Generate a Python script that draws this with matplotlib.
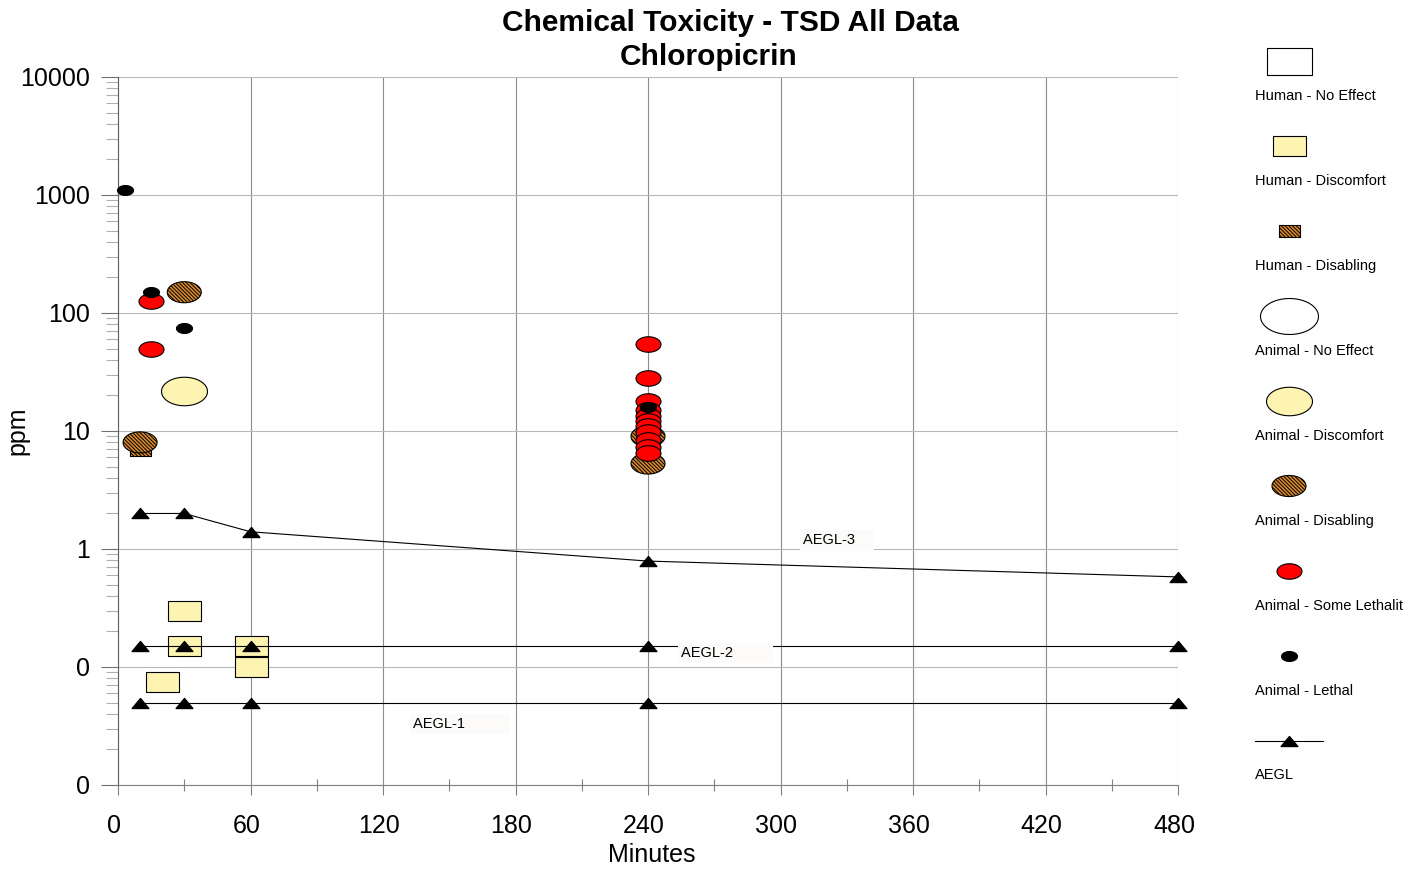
import matplotlib.pyplot as plt
import numpy as np
from matplotlib.path import Path
from matplotlib.transforms import ScaledTranslation
from matplotlib.ticker import FixedLocator, FixedFormatter, LogLocator, NullFormatter

plt.rcParams['font.family'] = ['Liberation Sans', 'DejaVu Sans']
plt.rcParams['hatch.linewidth'] = 0.7

# ---- data (minutes, ppm) ----
human_noeffect_x = []
human_noeffect_y = []
human_disc_x = [20, 30, 30, 60, 60]
human_disc_y = [0.075, 0.30, 0.15, 0.15, 0.10]
human_disab_x = [10]
human_disab_y = [7]
animal_noeffect_x = []
animal_noeffect_y = []
animal_disc_x = [30]
animal_disc_y = [22]
animal_disab_x = [10, 30, 240, 240]
animal_disab_y = [8, 150, 9, 5.3]
animal_some_x = [15, 15, 240, 240, 240, 240, 240, 240, 240, 240, 240, 240, 240]
animal_some_y = [126, 50, 55, 28, 18, 15, 13.5, 12.2, 11, 9.8, 8.4, 7.3, 6.5]
animal_lethal_x = [3, 15, 30, 240]
animal_lethal_y = [1100, 150, 75, 16]

aegl_x = [10, 30, 60, 240, 480]
aegl3 = [2.0, 2.0, 1.4, 0.79, 0.58]
aegl2 = [0.15, 0.15, 0.15, 0.15, 0.15]
aegl1 = [0.05, 0.05, 0.05, 0.05, 0.05]

y_ticks = [0.01, 0.1, 1, 10, 100, 1000, 10000]
y_ticklabels = ['0', '0', '1', '10', '100', '1000', '10000']

# legend text as it shows in the chart (last one is cut short there)
legend_labels = ['Human - No Effect', 'Human - Discomfort', 'Human - Disabling',
                 'Animal - No Effect', 'Animal - Discomfort', 'Animal - Disabling',
                 'Animal - Some Lethalit', 'Animal - Lethal']

# ---- marker shapes ----
t = np.linspace(0, 2 * np.pi, 80)
ellipse = Path(np.column_stack([np.cos(t), 0.62 * np.sin(t)]), closed=True)
rect = Path([(-1, -0.6), (1, -0.6), (1, 0.6), (-1, 0.6), (-1, -0.6)], closed=True)
tri = Path([(-1, -0.6), (1, -0.6), (0, 0.6), (-1, -0.6)], closed=True)

yellow = '#fcf4b0'
brown = '#d98a2e'
hatch = '\\' * 9


def sz(px):
    return (px * 0.72) ** 2


series = [
    (human_noeffect_x, human_noeffect_y, rect, 45, 'white', None),
    (human_disc_x, human_disc_y, rect, 33, yellow, None),
    (human_disab_x, human_disab_y, rect, 21, brown, hatch),
    (animal_noeffect_x, animal_noeffect_y, ellipse, 58, 'white', None),
    (animal_disc_x, animal_disc_y, ellipse, 46, yellow, None),
    (animal_disab_x, animal_disab_y, ellipse, 34, brown, hatch),
    (animal_some_x, animal_some_y, ellipse, 25, 'red', None),
    (animal_lethal_x, animal_lethal_y, ellipse, 16, 'black', None),
]

fig = plt.figure(figsize=(14.03, 8.69), dpi=100)
ax = fig.add_axes([118 / 1403, 1 - 785 / 869, 1060 / 1403, 708 / 869])

for xs, ys, m, w, fc, h in series:
    if xs:
        ax.scatter(xs, ys, marker=m, s=sz(w), facecolor=fc, edgecolor='black',
                   linewidth=0.8, hatch=h, zorder=3, clip_on=False)

for ys in (aegl3, aegl2, aegl1):
    ax.plot(aegl_x, ys, color='black', lw=0.8, marker=tri, markersize=12,
            markerfacecolor='black', markeredgecolor='black', zorder=4, clip_on=False)

box = dict(boxstyle='square,pad=0.2', fc='#fcfbf9', ec='none')
ax.text(310, 1.19, 'AEGL-3    ', fontsize=10.5, va='center', bbox=box, zorder=5)
ax.text(255, 0.131, 'AEGL-2         ', fontsize=10.5, va='center', bbox=box, zorder=5)
ax.text(133.5, 0.033, 'AEGL-1          ', fontsize=10.5, va='center', bbox=box, zorder=5)

ax.set_yscale('log')
ax.set_xlim(0, 480)
ax.set_ylim(0.01, 10000)
ax.set_xticks(range(0, 481, 60))
ax.set_xticks(range(30, 480, 60), minor=True)
ax.yaxis.set_major_locator(FixedLocator(y_ticks))
ax.yaxis.set_major_formatter(FixedFormatter(y_ticklabels))
ax.yaxis.set_minor_locator(LogLocator(base=10, subs=np.arange(2, 10)))
ax.yaxis.set_minor_formatter(NullFormatter())

ax.xaxis.grid(True, which='major', color='#8c8c8c', lw=0.8)
ax.yaxis.grid(True, which='major', color='#b8b8b8', lw=0.8)
ax.set_axisbelow(True)

ax.tick_params(axis='y', which='major', length=12.5, width=0.8, color='#707070',
               pad=8, labelsize=18)
ax.tick_params(axis='y', which='minor', length=8.5, width=0.8, color='#b0b0b0')
ax.tick_params(axis='x', which='major', length=7, width=0.8, color='#808080',
               pad=14, labelsize=18)
ax.tick_params(axis='x', which='minor', direction='inout', length=9, width=0.8,
               color='#808080')
shift = ScaledTranslation(-4 / 100, 0, fig.dpi_scale_trans)
for lbl in ax.get_xticklabels():
    lbl.set_transform(lbl.get_transform() + shift)
for s in ('top', 'right'):
    ax.spines[s].set_visible(False)
ax.spines['left'].set_color('#606060')
ax.spines['bottom'].set_color('#808080')

ax.set_xlabel('Minutes', fontsize=18)
ax.xaxis.set_label_coords(534 / 1060, -70 / 708)
ax.xaxis.label.set_va('center')
ax.set_ylabel('ppm', fontsize=18)
ax.yaxis.set_label_coords(-101 / 1060, 354 / 708)
ax.yaxis.label.set_va('center')

fig.text(730 / 1403, 1 - 23 / 869, 'Chemical Toxicity - TSD All Data',
         ha='center', va='center', fontsize=21.5, fontweight='bold')
fig.text(709 / 1403, 1 - 57 / 869, 'Chloropicrin',
         ha='center', va='center', fontsize=21.5, fontweight='bold')

# ---- legend on the right, laid out in pixel coordinates ----
lax = fig.add_axes([0, 0, 1, 1])
lax.set_xlim(0, 1403)
lax.set_ylim(869, 0)
lax.axis('off')
lax.patch.set_alpha(0)

for i, ((xs, ys, m, w, fc, h), lab) in enumerate(zip(series, legend_labels)):
    yc = 61 + 85 * i
    lax.scatter([1289], [yc], marker=m, s=sz(w), facecolor=fc, edgecolor='black',
                linewidth=0.8, hatch=h)
    lax.text(1255, yc + 35, lab, fontsize=10.5, va='center', ha='left')

lax.plot([1255, 1323], [741, 741], color='black', lw=0.8)
lax.plot([1289], [741], marker=tri, markersize=12, color='black', lw=0)
lax.text(1255, 775, 'AEGL', fontsize=10.5, va='center', ha='left')

fig.savefig('out.png', dpi=100)
